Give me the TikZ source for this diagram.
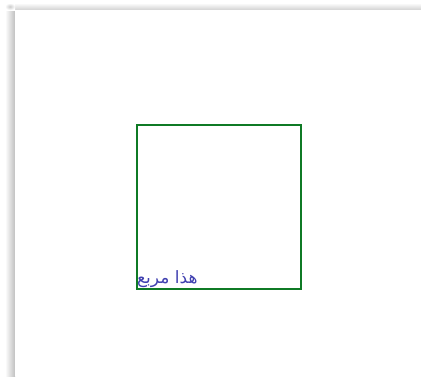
\documentclass[tikz,border=0pt]{standalone}
\usepackage{fontspec}
\newfontfamily\arabicfont[Script=Arabic]{DejaVu Sans}
\TeXXeTstate=1
\definecolor{sqgreen}{HTML}{0F7A25}
\definecolor{txtblue}{HTML}{4040B0}
\tikzset{
  sq/.style={draw=sqgreen, line width=1.3pt},
  lbl/.style={inner sep=0pt, text=txtblue, font=\arabicfont\fontsize{17}{20}\selectfont},
}
\begin{document}
\begin{tikzpicture}[x=1pt,y=-1pt]
\useasboundingbox (0,0) rectangle (421,376);
\fill[white] (0,0) rectangle (421,376);
% page shadow
\shade[left color=white, right color=black!25] (5,10) rectangle (15,376);
\shade[top color=white, bottom color=black!18] (15,3) rectangle (421,10);
\shade[inner color=black!20, outer color=white] (5,3) rectangle (15,10);
\fill[white] (15,10) rectangle (421,376);
% square
\draw[sq] (137,125) rectangle (301,289);
\node[lbl, anchor=base west] (t) at (137,283) {\beginR هذا مربع\endR};
\end{tikzpicture}
\end{document}
